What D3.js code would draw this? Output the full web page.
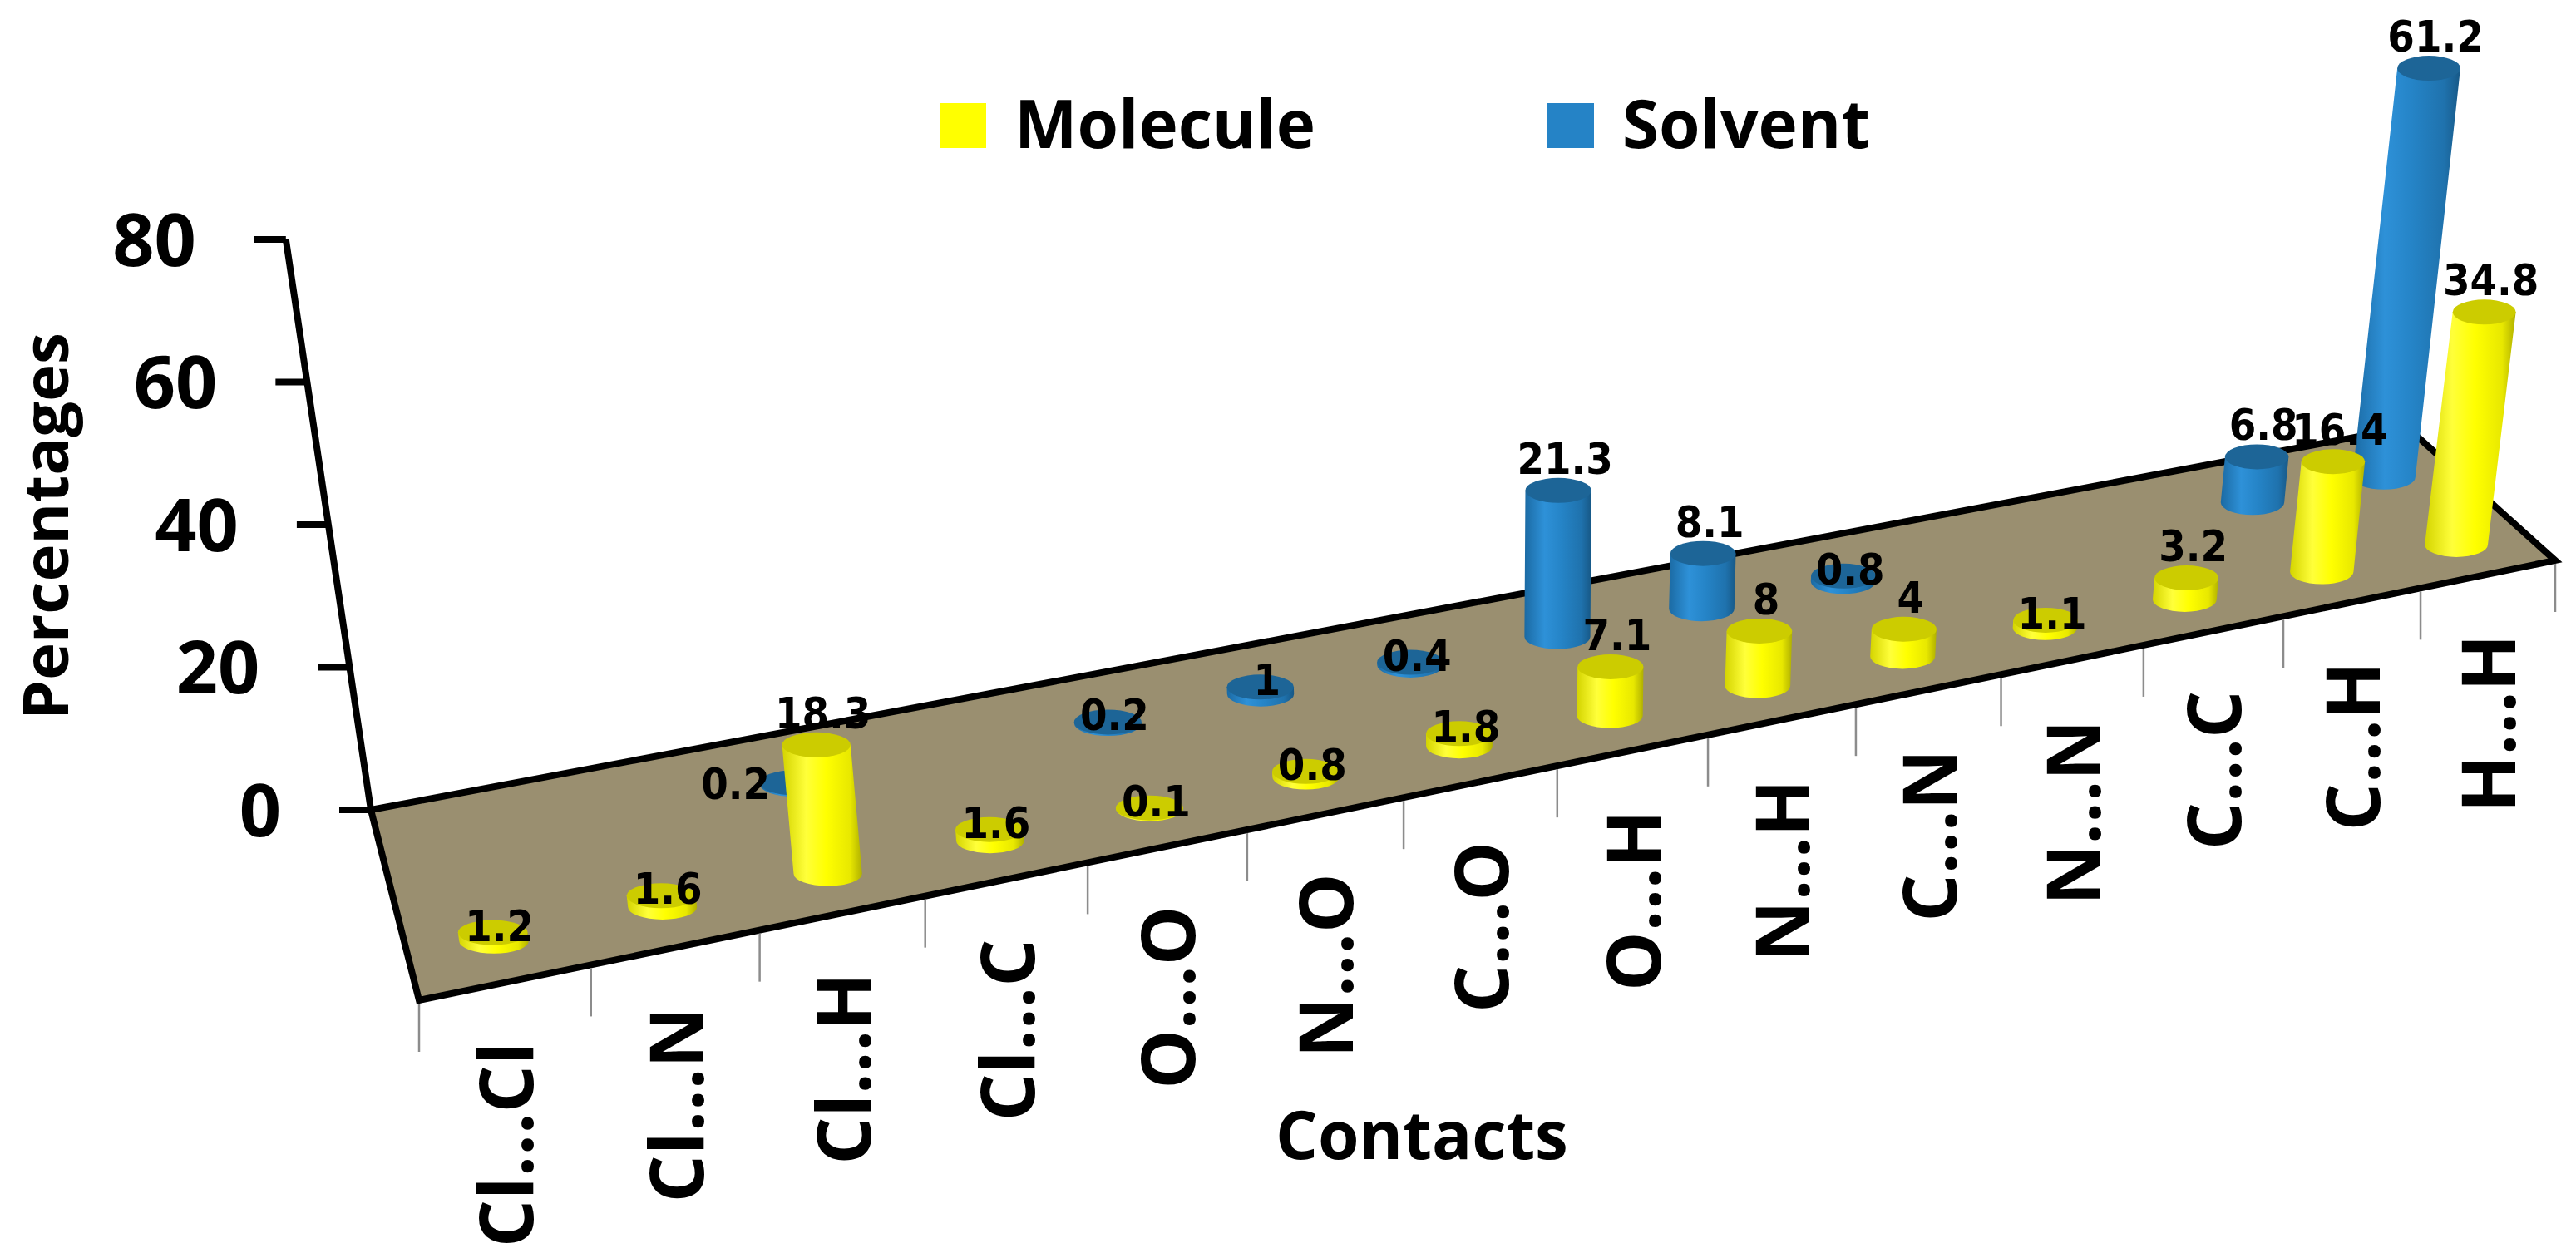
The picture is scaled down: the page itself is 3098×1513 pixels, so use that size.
<!DOCTYPE html>
<html>
<head>
<meta charset="utf-8">
<script src="https://cdn.jsdelivr.net/npm/d3@7"></script>
<style>
  body { margin: 0; background: #fff; }
  text { font-family: 'Open Sans', 'DejaVu Sans', sans-serif; font-weight: bold; }
  .val { font-family: 'Liberation Sans Narrow', 'DejaVu Sans Condensed', 'Open Sans', sans-serif; }
</style>
</head>
<body>
<svg width="3098" height="1513"></svg>
<script>
// data
var categories = ['Cl...Cl', 'Cl...N', 'Cl...H', 'Cl...C', 'O...O', 'N...O', 'C...O', 'O...H', 'N...H', 'C...N', 'N...N', 'C...C', 'C...H', 'H...H'];
var molecule = [1.2, 1.6, 18.3, 1.6, 0.1, 0.8, 1.8, 7.1, 8, 4, 1.1, 3.2, 16.4, 34.8];
var solvent = [null, null, 0.2, null, 0.2, 1, 0.4, 21.3, 8.1, 0.8, null, null, 6.8, 61.2];
var yTicks = [0, 20, 40, 60, 80];

var svg = d3.select('svg');

// floor corners (front-left, front-right, back-right, back-left)
var FL = [504, 1203], FR = [3073, 674], BR = [2895, 514], BL = [446, 974];
var V = [1813, 10150]; // vertical vanishing point

// category position along the floor, spacing shrinks toward the right
var r = 0.9814;
var uScale = d3.scaleLinear().domain([1, Math.pow(r, categories.length)]).range([0, 1]);
function uOf(k) { return uScale(Math.pow(r, k)); }

var hScale = d3.scaleLinear().domain([0, 80]).range([0, 686]);

function P(u, v) {
    var fx = FL[0] + (FR[0] - FL[0]) * u, fy = FL[1] + (FR[1] - FL[1]) * u;
    var bx = BL[0] + (BR[0] - BL[0]) * u, by = BL[1] + (BR[1] - BL[1]) * u;
    return [fx + (bx - fx) * v, fy + (by - fy) * v];
}

var defs = svg.append('defs');
function grad(id, stops) {
    var g = defs.append('linearGradient').attr('id', id).attr('x1', 0).attr('x2', 1).attr('y1', 0).attr('y2', 0);
    stops.forEach(function (s) { g.append('stop').attr('offset', s[0]).attr('stop-color', s[1]); });
}
grad('gy', [[0, '#d4d400'], [0.3, '#ffff3a'], [0.55, '#ffff00'], [0.85, '#e8e800'], [1, '#b0b000']]);
grad('gb', [[0, '#1b6aa3'], [0.3, '#2e91d8'], [0.55, '#2584c7'], [0.85, '#1f72ad'], [1, '#175886']]);

// floor
svg.append('polygon')
    .attr('points', [FL, FR, BR, BL].map(function (p) { return p.join(','); }).join(' '))
    .attr('fill', '#9a8f70').attr('stroke', '#000').attr('stroke-width', 8);

// category ticks
d3.range(categories.length + 1).forEach(function (k) {
    var p = P(uOf(k), 0);
    svg.append('line').attr('x1', p[0]).attr('y1', p[1] + 4).attr('x2', p[0]).attr('y2', p[1] + 62)
        .attr('stroke', '#8c8c8c').attr('stroke-width', 2.5);
});

// y axis
var tTop = hScale(80) / (V[1] - BL[1]);
var axTop = [BL[0] + (BL[0] - V[0]) * tTop, BL[1] - hScale(80)];
svg.append('line').attr('x1', BL[0]).attr('y1', BL[1]).attr('x2', axTop[0]).attr('y2', axTop[1])
    .attr('stroke', '#000').attr('stroke-width', 8);
yTicks.forEach(function (v) {
    var t = hScale(v) / (V[1] - BL[1]);
    var x = BL[0] + (BL[0] - V[0]) * t, y = BL[1] - hScale(v);
    svg.append('line').attr('x1', x - 38).attr('y1', y).attr('x2', x).attr('y2', y)
        .attr('stroke', '#000').attr('stroke-width', 8);
    svg.append('text').attr('x', x - 108).attr('y', y).attr('dy', '0.36em')
        .attr('text-anchor', 'end').attr('font-size', 88).text(v);
});

// cylinders
var labels = [];
function cylinder(k, val, v, fillGrad, capColor, isBack) {
    var u = uOf(k + 0.5);
    var b = P(u, v);
    var H = hScale(val) * (1 - 0.065 * u);
    var t = H / (V[1] - b[1]);
    var tp = [b[0] + (b[0] - V[0]) * t, b[1] - H];
    var rx = 42 * (1 - 0.1 * u), ry = 15;
    var g = svg.append('g');
    g.append('path')
        .attr('d', 'M' + (b[0] - rx) + ',' + b[1] + 'L' + (tp[0] - rx) + ',' + tp[1] +
            'L' + (tp[0] + rx) + ',' + tp[1] + 'L' + (b[0] + rx) + ',' + b[1] +
            'A' + rx + ',' + ry + ' 0 0 1 ' + (b[0] - rx) + ',' + b[1] + 'Z')
        .attr('fill', 'url(#' + fillGrad + ')');
    g.append('ellipse').attr('cx', tp[0]).attr('cy', tp[1]).attr('rx', rx).attr('ry', ry).attr('fill', capColor);
    var lx = tp[0] + 8, ly = tp[1] - 20;
    if (val < 2) { ly = tp[1] + 10; }
    if (isBack && k === 2) { lx = tp[0] - 70; ly = tp[1] + 20; }
    labels.push({ x: lx, y: ly, t: val });
}
solvent.forEach(function (val, k) { if (val != null) cylinder(k, val, 0.72, 'gb', '#1d6597', true); });
molecule.forEach(function (val, k) { if (val != null) cylinder(k, val, 0.22, 'gy', '#cccc00', false); });

labels.forEach(function (l) {
    svg.append('text').attr('class', 'val').attr('x', l.x).attr('y', l.y)
        .attr('text-anchor', 'middle').attr('font-size', 52).text(l.t);
});

// category labels
categories.forEach(function (c, k) {
    var p = P(uOf(k + 0.5), 0);
    var x = p[0] + 33, y = p[1] + 72;
    svg.append('text').attr('transform', 'translate(' + x + ',' + y + ') rotate(-90)')
        .attr('text-anchor', 'end').attr('font-size', 90).text(c);
});

// axis titles
svg.append('text').attr('transform', 'translate(82,633) rotate(-90)')
    .attr('text-anchor', 'middle').attr('font-size', 76).text('Percentages');
svg.append('text').attr('x', 1710).attr('y', 1394).attr('text-anchor', 'middle').attr('font-size', 80).text('Contacts');

// legend
var legendItems = ['Molecule', 'Solvent'];
var legendColors = ['#ffff00', '#2583c6'];
var legendX = [1130, 1861];
legendItems.forEach(function (name, i) {
    svg.append('rect').attr('x', legendX[i]).attr('y', 124).attr('width', 56).attr('height', 54).attr('fill', legendColors[i]);
    svg.append('text').attr('x', legendX[i] + 90).attr('y', 178).attr('font-size', 80).text(name);
});
</script>
</body>
</html>
